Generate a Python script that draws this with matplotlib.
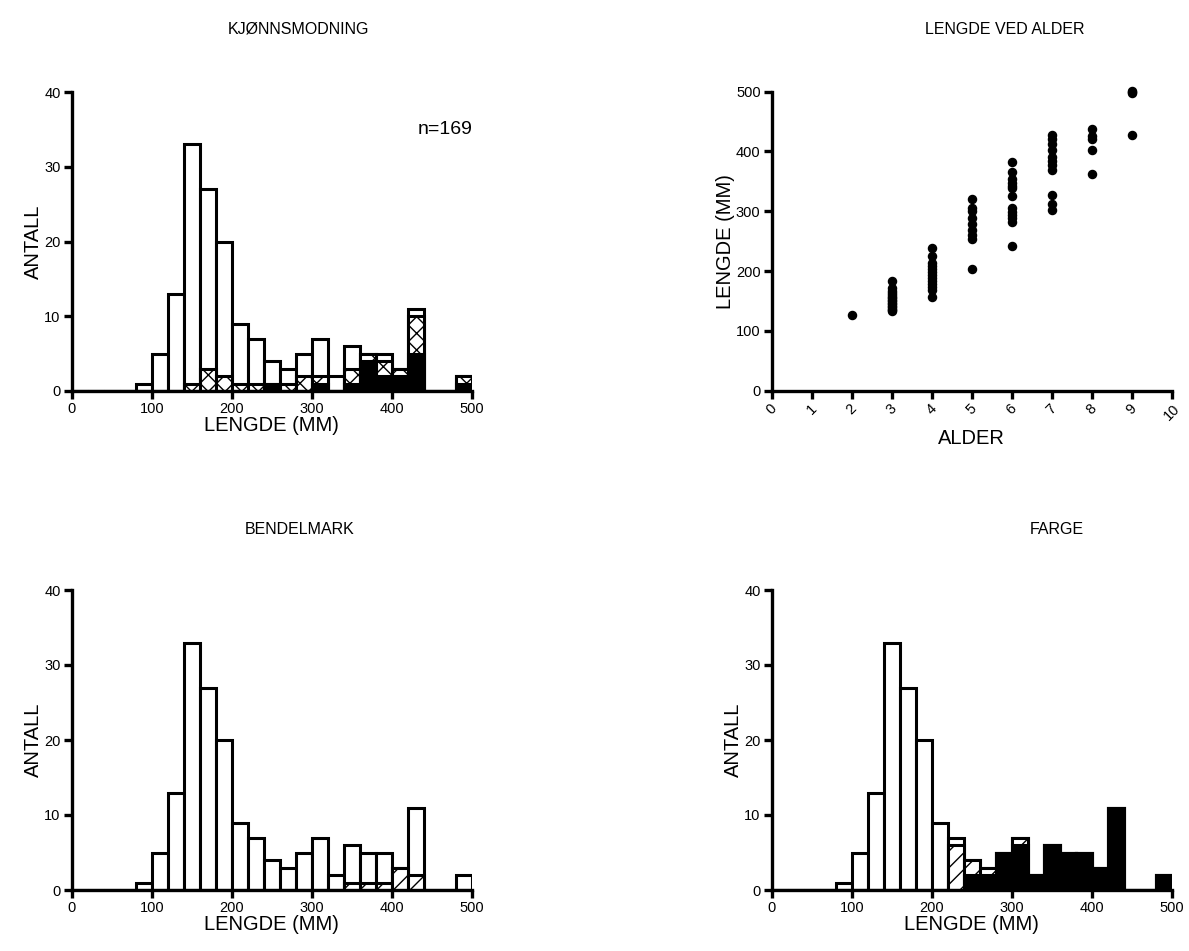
import matplotlib
matplotlib.use("Agg")
import matplotlib.pyplot as plt

# histogram bins (left edge, mm), 20 mm wide
bins = list(range(0, 500, 20))
total = [0, 0, 0, 0, 1, 5, 13, 33, 27, 20, 9, 7, 4, 3, 5, 7, 2, 6, 5, 5, 3, 11, 0, 0, 2]

# KJØNNSMODNING: black = mature, crosshatch = maturing
kj_black = [0, 0, 0, 0, 0, 0, 0, 0, 0, 0, 0, 0, 1, 0, 0, 1, 0, 1, 4, 2, 2, 5, 0, 0, 1]
kj_cross = [0, 0, 0, 0, 0, 0, 0, 1, 3, 2, 1, 1, 0, 1, 2, 1, 0, 2, 1, 2, 1, 5, 0, 0, 1]

# BENDELMARK: hatched part
bm_hatch = [0, 0, 0, 0, 0, 0, 0, 0, 0, 0, 0, 0, 0, 0, 0, 0, 0, 1, 1, 1, 3, 2, 0, 0, 0]

# FARGE: hatched + black parts
fa_hatch = [0, 0, 0, 0, 0, 0, 0, 0, 0, 0, 0, 6, 2, 1, 0, 1, 0, 0, 0, 0, 0, 0, 0, 0, 0]
fa_black = [0, 0, 0, 0, 0, 0, 0, 0, 0, 0, 0, 0, 2, 2, 5, 6, 2, 6, 5, 5, 3, 11, 0, 0, 2]

# LENGDE VED ALDER
age_2 = [127]
age_3 = [184, 171, 167, 163, 160, 157, 155, 152, 150, 147, 145, 142, 140, 137, 135, 133]
age_4 = [238, 226, 213, 208, 203, 198, 193, 188, 183, 178, 173, 168, 157]
age_5 = [320, 305, 301, 288, 278, 269, 260, 253, 203]
age_6 = [383, 365, 354, 348, 343, 339, 325, 305, 299, 294, 288, 282, 242]
age_7 = [427, 421, 413, 403, 390, 384, 377, 369, 327, 313, 303]
age_8 = [437, 426, 421, 402, 362]
age_9 = [502, 499, 497, 427]
ages = [2, 3, 4, 5, 6, 7, 8, 9]
lengths = [age_2, age_3, age_4, age_5, age_6, age_7, age_8, age_9]

plt.rcParams['font.family'] = ['Liberation Sans', 'DejaVu Sans']
plt.rcParams['hatch.linewidth'] = 1.0

fig = plt.figure(figsize=(11.89, 9.51), dpi=100)
W, H = 1189.0, 951.0


def make_ax(x0, y0, x1, y1):
    return fig.add_axes([x0 / W, 1 - y1 / H, (x1 - x0) / W, (y1 - y0) / H])


def style(ax):
    for s in ['top', 'right']:
        ax.spines[s].set_visible(False)
    for s in ['left', 'bottom']:
        ax.spines[s].set_linewidth(2.4)
    ax.tick_params(width=2.4, length=6, labelsize=10.5, pad=2)


def hist_ax(ax):
    style(ax)
    ax.set_xlim(0, 500)
    ax.set_ylim(0, 40)
    ax.set_xticks([0, 100, 200, 300, 400, 500])
    ax.set_yticks([0, 10, 20, 30, 40])
    ax.set_xlabel("LENGDE (MM)", fontsize=14.5, labelpad=0)
    ax.set_ylabel("ANTALL", fontsize=14.5, labelpad=1)


def outline_bars(ax, heights, **kw):
    ax.bar(bins, heights, width=20, align='edge', linewidth=2.2,
           edgecolor='black', **kw)


# top left
ax1 = make_ax(71.7, 92, 471.7, 391)
outline_bars(ax1, total, color='white')
outline_bars(ax1, [b + c for b, c in zip(kj_black, kj_cross)], color='white', hatch='xx')
outline_bars(ax1, kj_black, color='black')
hist_ax(ax1)
fig.text(445 / W, 1 - 129 / H, "n=169", fontsize=14, ha='center', va='center')

# top right
ax2 = make_ax(771.7, 91.7, 1171.7, 390.7)
for a, l in zip(ages, lengths):
    ax2.scatter([a] * len(l), l, s=34, color='black', zorder=3, clip_on=False)
style(ax2)
ax2.set_xlim(0, 10)
ax2.set_ylim(0, 500)
ax2.set_xticks(range(0, 11))
ax2.set_yticks([0, 100, 200, 300, 400, 500])
ax2.tick_params(axis='x', labelrotation=45)
ax2.set_xlabel("ALDER", fontsize=14.5, labelpad=4)
ax2.set_ylabel("LENGDE (MM)", fontsize=14.5, labelpad=1)

# bottom left
ax3 = make_ax(71.7, 590, 471.7, 890)
outline_bars(ax3, total, color='white')
outline_bars(ax3, bm_hatch, color='white', hatch='//')
hist_ax(ax3)

# bottom right
ax4 = make_ax(771.7, 590, 1171.7, 890)
outline_bars(ax4, total, color='white')
outline_bars(ax4, [b + h for b, h in zip(fa_black, fa_hatch)], color='white', hatch='//')
outline_bars(ax4, fa_black, color='black')
hist_ax(ax4)

# titles
for x, y, t in [(299, 29, "KJØNNSMODNING"), (1005, 29, "LENGDE VED ALDER"),
                (300, 530, "BENDELMARK"), (1057, 530, "FARGE")]:
    fig.text(x / W, 1 - y / H, t, fontsize=11.5, ha='center', va='center')

fig.savefig("out.png", dpi=100)
